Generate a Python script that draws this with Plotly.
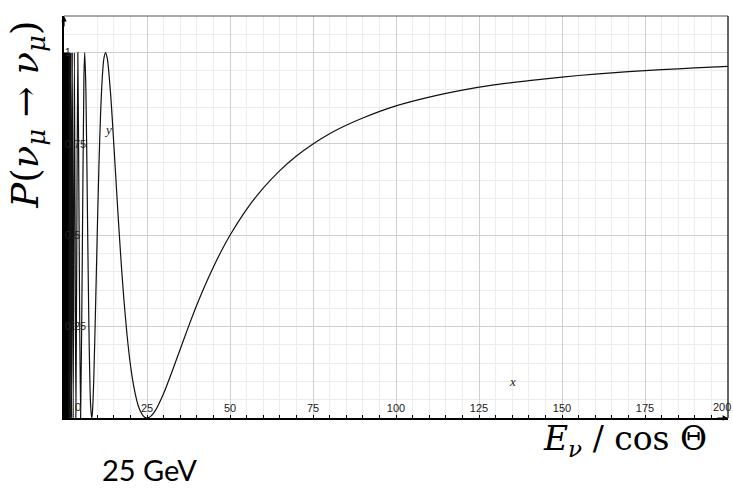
import plotly.graph_objects as go

# ---- data (E / cos theta in GeV, survival probability) ----
energy = [1.471, 1.5625, 1.667, 1.786, 1.923, 2.083, 2.273, 2.5, 2.778, 3.125,
          3.571, 3.8, 4.167, 4.5, 5.0, 5.5, 6.0, 6.25, 6.6, 7.0, 7.5, 8.0, 8.333,
          8.5, 8.75, 9.0, 9.5, 10.0, 10.5, 11.0, 11.5, 12.0, 12.5, 13.0, 14.0, 15.0,
          16.0, 17.0, 18.0, 19.0, 20.0, 21.0, 22.0, 22.5, 23.0, 24.0, 24.5, 25.0,
          25.5, 26.0, 27.5, 30.0, 32.5, 35.0, 37.5, 40.0, 42.5, 45.0, 47.5, 50.0,
          55.0, 60.0, 65.0, 70.0, 75.0, 80.0, 85.0, 90.0, 100.0, 110.0, 120.0,
          130.0, 140.0, 150.0, 160.0, 170.0, 180.0, 190.0, 200.0]
prob = [0.0, 1.0, 0.0, 1.0, 0.0, 1.0, 0.0, 1.0, 0.0, 1.0,
        0.0, 0.377, 1.0, 0.587, 0.0, 0.429, 0.933, 1.0, 0.893, 0.611, 0.25, 0.038, 0.0,
        0.0085, 0.0495, 0.117, 0.300, 0.5, 0.683, 0.827, 0.927, 0.983, 1.0, 0.986, 0.891, 0.75,
        0.598, 0.454, 0.329, 0.2265, 0.146, 0.087, 0.045, 0.030, 0.0186, 0.0043, 0.001, 0.0,
        0.001, 0.0037, 0.0203, 0.067, 0.126, 0.188, 0.25, 0.309, 0.363, 0.413, 0.459, 0.5,
        0.571, 0.629, 0.677, 0.717, 0.75, 0.778, 0.801, 0.821, 0.854, 0.878, 0.897,
        0.912, 0.923, 0.933, 0.941, 0.948, 0.953, 0.958, 0.962]

# unresolved fast oscillations near E = 0 (drawn as a solid band)
band_energy = [0.0, 0.0, 1.6, 1.6]
band_prob = [0.0, 1.0, 1.0, 0.0]

x_ticks = [25, 50, 75, 100, 125, 150, 175]
x_tick_text = ["25", "50", "75", "100", "125", "150", "175"]
x_edge_labels = [(0, "0"), (200, "200")]
y_ticks = [0.25, 0.5, 0.75, 1.0]
y_tick_text = ["0.25", "0.5", "0.75", "1"]

fig = go.Figure()
fig.add_trace(go.Scatter(x=band_energy, y=band_prob, mode="lines", fill="toself",
                         fillcolor="black", line=dict(color="black", width=0),
                         hoverinfo="skip", showlegend=False))
fig.add_trace(go.Scatter(x=energy, y=prob, mode="lines",
                         line=dict(color="#111111", width=1.2, shape="spline", smoothing=0.8),
                         showlegend=False))

tick_font = dict(family="Liberation Sans, Arial, sans-serif", size=11, color="#222222")

annotations = [
    dict(x=0, y=1.1, xref="x", yref="y", text="", showarrow=True,
         ax=0, ay=12, arrowhead=2, arrowsize=0.9, arrowwidth=1.2, arrowcolor="black"),
    dict(x=200, y=0, xref="x", yref="y", text="", showarrow=True,
         ax=-12, ay=0, arrowhead=2, arrowsize=0.9, arrowwidth=1.2, arrowcolor="black"),
    dict(x=13.3, y=0.79, xref="x", yref="y", text="<i>y</i>", showarrow=False,
         font=dict(family="Liberation Serif, serif", size=13, color="#222222")),
    dict(x=135.2, y=0.10, xref="x", yref="y", text="<i>x</i>", showarrow=False,
         font=dict(family="Liberation Serif, serif", size=13, color="#222222")),
    dict(x=-0.054, y=0.755, xref="paper", yref="paper",
         text="<i>P</i>(<i>ν</i><sub><i>μ</i></sub> → <i>ν</i><sub><i>μ</i></sub>)",
         textangle=-90, showarrow=False, xanchor="center", yanchor="middle",
         font=dict(family="DejaVu Serif, Liberation Serif, serif", size=37, color="black")),
    dict(x=0.845, y=-0.055, xref="paper", yref="paper",
         text="<i>E</i><sub><i>ν</i></sub> / cos Θ",
         showarrow=False, xanchor="center", yanchor="middle",
         font=dict(family="DejaVu Serif, Liberation Serif, serif", size=33, color="black")),
    dict(x=0.1295, y=-0.129, xref="paper", yref="paper", text="25 GeV",
         showarrow=False, xanchor="center", yanchor="middle",
         font=dict(family="Lato, Open Sans, sans-serif", size=29, color="black")),
]
for xv, lab in x_edge_labels:
    annotations.append(dict(x=xv, y=0, xref="x", yref="y", text=lab, showarrow=False,
                            xshift=14 if xv == 0 else -6, yshift=11, font=tick_font))

fig.update_layout(
    width=733, height=489,
    margin=dict(l=64, r=5, t=16, b=71),
    paper_bgcolor="white", plot_bgcolor="white",
    xaxis=dict(range=[0, 200], tickvals=x_ticks, ticktext=x_tick_text,
               ticklabelposition="inside", tickfont=tick_font,
               showgrid=True, gridcolor="#cfcfcf", gridwidth=1,
               minor=dict(dtick=5, tick0=0, showgrid=True, gridcolor="#ececec",
                          ticks="inside", ticklen=3, tickcolor="black"),
               ticks="inside", ticklen=3, tickcolor="black",
               showline=True, linecolor="black", linewidth=2,
               zeroline=False, layer="above traces", fixedrange=True),
    yaxis=dict(range=[0, 1.1], tickvals=y_ticks, ticktext=y_tick_text,
               ticklabelposition="inside", tickfont=tick_font,
               showgrid=True, gridcolor="#cfcfcf", gridwidth=1,
               minor=dict(dtick=0.05, tick0=0, showgrid=True, gridcolor="#ececec"),
               showline=True, linecolor="black", linewidth=2,
               zeroline=False, layer="above traces", fixedrange=True),
    shapes=[
        dict(type="line", xref="x domain", yref="y domain", x0=0, x1=1, y0=1, y1=1,
             line=dict(color="#555555", width=1)),
        dict(type="line", xref="x domain", yref="y domain", x0=1, x1=1, y0=0, y1=1,
             line=dict(color="#333333", width=1.5)),
    ],
    annotations=annotations,
)

fig.write_html("out.html")
